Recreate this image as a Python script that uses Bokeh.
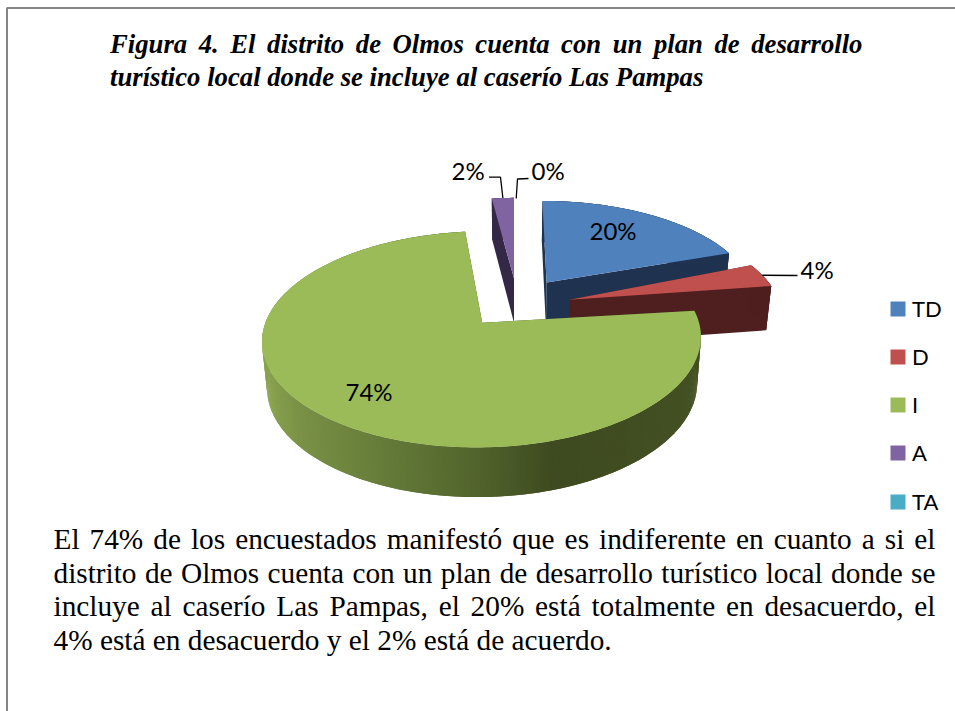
import numpy as np
from bokeh.plotting import figure
from bokeh.models import Range1d
from bokeh.core.properties import value
from bokeh.embed import file_html
from bokeh.resources import INLINE

# ---------- data ----------
categories = ["TD", "D", "I", "A", "TA"]
percents = [20, 4, 74, 2, 0]
labels = ["20%", "4%", "74%", "2%", "0%"]
top_colors = ["#4F81BD", "#C0504D", "#9BBB59", "#8064A2", "#4BACC6"]
side_colors = ["#1F3350", "#4F1F1F", "#3F4C20", "#332846", "#1E4550"]
explode = [0.28, 0.26, 0.23, 0.27, 0.27]
explode_nudge_u = [-0.005, 0.009, 0.0, 0.017, 0.0]
edge_shift_deg = [(0, -1.2), (-3.6, -4.6), (-3.0, 0.7), (0, 0), (0, 0)]

title_lines = [
    "Figura 4. El distrito de Olmos cuenta con un plan de desarrollo",
    "turístico local donde se incluye al caserío Las Pampas",
]
body_lines = [
    "El 74% de los encuestados manifestó que es indiferente en cuanto a si el",
    "distrito de Olmos cuenta con un plan de desarrollo turístico local donde se",
    "incluye al caserío Las Pampas, el 20% está totalmente en desacuerdo, el",
    "4% está en desacuerdo y el 2% está de acuerdo.",
]

# ---------- projection of the tilted pie ----------
CX, CY, RX, RY, K, H, CONV = 513.5, 304.0, 211.0, 100.0, 0.15, 45.0, 0.02


def project(u, v):
    w = 1 - K * v
    return CX + RX * u / w, CY + RY * v / w, H / np.sqrt(w)


def lower(x):
    # verticals converge slightly towards the pie axis
    return x - (x - CX) * CONV


p = figure(width=955, height=711, x_range=Range1d(0, 955), y_range=Range1d(711, 0),
           output_backend="svg", toolbar_location=None, min_border=0,
           background_fill_color="white", border_fill_color="white", outline_line_color=None)
p.axis.visible = False
p.grid.visible = False

# page frame of the scanned sheet
p.line([6.5, 6.5, 955], [711, 7.5, 7.5], line_color="#868686", line_width=2)

# ---------- slices ----------
GRAD_X = [261, 300, 400, 480, 557, 701]
GRAD_R = [138, 122, 98, 82, 62, 68]
GRAD_G = [165, 145, 120, 100, 74, 82]
GRAD_B = [80, 70, 55, 45, 32, 36]

fr = np.cumsum([0] + percents) / sum(percents) * 2 * np.pi
order = [3, 0, 1, 2]  # painter's order, back to front
outer_mid = {}
for i in range(len(percents)):
    a0, a1, e = fr[i], fr[i + 1], explode[i]
    m = (a0 + a1) / 2
    ou, ov = e * np.sin(m) + explode_nudge_u[i], -e * np.cos(m)
    outer_mid[i] = project(ou + np.sin(m + np.radians(sum(edge_shift_deg[i]) / 2)),
                           ov - np.cos(m + np.radians(sum(edge_shift_deg[i]) / 2)))

for i in order:
    a0, a1 = fr[i], fr[i + 1]
    e = explode[i]
    m = (a0 + a1) / 2
    ou, ov = e * np.sin(m) + explode_nudge_u[i], -e * np.cos(m)
    th = np.linspace(a0 + np.radians(edge_shift_deg[i][0]), a1 + np.radians(edge_shift_deg[i][1]),
                     max(8, int(percents[i] * 6)))
    us = ou + np.sin(th)
    vs = ov - np.cos(th)
    X, Y, D = project(us, vs)
    tx, ty, td = project(ou, ov)
    # cut faces
    for (ax, ay, ad) in ((X[0], Y[0], D[0]), (X[-1], Y[-1], D[-1])):
        p.patch([tx, ax, lower(ax), lower(tx)], [ty, ay, ay + ad, ty + td],
                fill_color=side_colors[i], line_color=None)
    # outer wall: each strip overlaps the next one so no seams show
    n = len(th)
    idx = range(n - 1)
    if categories[i] == "I":
        idx = range(n - 2, -1, -1)  # paint from the dark end to the light end, overlapped
    for j in idx:
        j2 = min(j + 2, n - 1)
        if categories[i] == "I":
            xm = (X[j] + X[j + 1]) / 2
            c = "#%02x%02x%02x" % (int(np.interp(xm, GRAD_X, GRAD_R)),
                                   int(np.interp(xm, GRAD_X, GRAD_G)),
                                   int(np.interp(xm, GRAD_X, GRAD_B)))
        else:
            c = side_colors[i]
        p.patch([X[j], X[j2], lower(X[j2]), lower(X[j])],
                [Y[j], Y[j2], Y[j2] + D[j2], Y[j] + D[j]],
                fill_color=c, line_color=None)
    # top face
    p.patch(np.r_[tx, X], np.r_[ty, Y], fill_color=top_colors[i], line_color=None)

# ---------- data labels and leader lines ----------
label_font = value("Lato")
label_pos = {0: (589, 230, "left"), 1: (800, 269, "left"), 2: (345, 391, "left"),
             3: (451, 170, "left"), 4: (531, 170, "left")}
for i, t in enumerate(labels):
    lx, ly, al = label_pos[i]
    p.text([lx], [ly], text=[t], text_font=label_font, text_font_size="24px",
           text_color="black", text_align=al, text_baseline="alphabetic")

p.line([outer_mid[3][0], 500, 488.5], [outer_mid[3][1], 176.7, 176.7], line_color="black", line_width=1.3)
p.line([515.7, 517, 528], [198, 178.5, 178], line_color="black", line_width=1.3)
p.line([outer_mid[1][0], 797], [outer_mid[1][1], 275], line_color="black", line_width=1.3)

# ---------- legend ----------
leg_y = [308.5, 356.5, 404.5, 452.5, 501.5]
for c, name, y in zip(top_colors, categories, leg_y):
    p.quad(left=[890], right=[905], top=[y - 7.5], bottom=[y + 7.5], fill_color=c, line_color=None)
    p.text([911.5], [y - 0.5], text=[name], text_font=label_font, text_font_size="22px",
           text_color="black", text_align="left", text_baseline="alphabetic")

# ---------- justified text, word by word (Times metrics) ----------
ROMAN = dict(zip("abcdefghijklmnopqrstuvwxyz",
                 [444, 500, 444, 500, 444, 333, 500, 500, 278, 278, 500, 278, 778,
                  500, 500, 500, 500, 333, 389, 278, 500, 500, 722, 500, 500, 444]))
ROMAN.update({"E": 611, "L": 611, "O": 722, "P": 556, "%": 833, ",": 250, ".": 250,
              "á": 444, "í": 278, "ó": 500})
BOLDIT = dict(zip("abcdefghijklmnopqrstuvwxyz",
                  [500, 500, 444, 500, 444, 333, 500, 556, 278, 278, 500, 278, 778,
                   556, 500, 500, 500, 389, 389, 278, 556, 444, 667, 500, 444, 389]))
BOLDIT.update({"F": 667, "E": 667, "L": 611, "O": 722, "P": 611, ".": 250, "í": 278})


def wtext(word, table, size):
    return sum(table.get(ch, 500) for ch in word) * size / 1000


def set_line(line, x0, x1, y, table, size, font_style, justify):
    words = line.split(" ")
    widths = [wtext(w, table, size) for w in words]
    gap = (x1 - x0 - sum(widths)) / (len(words) - 1) if justify else 0.25 * size
    x = x0
    for w, wd in zip(words, widths):
        p.text([x], [y], text=[w], text_font=value("Liberation Serif"), text_font_size=f"{size}px",
               text_font_style=font_style, text_color="black",
               text_align="left", text_baseline="alphabetic")
        x += wd + gap


set_line(title_lines[0], 109.5, 862, 43, BOLDIT, 26.7, "bold italic", True)
set_line(title_lines[1], 109.5, 703, 76.5, BOLDIT, 26.7, "bold italic", False)
for line, y, just in zip(body_lines, [538.5, 572, 605.5, 639], [True, True, True, False]):
    set_line(line, 53, 935, y, ROMAN, 29.3, "normal", just)

open("out.html", "w").write(file_html(p, INLINE))
